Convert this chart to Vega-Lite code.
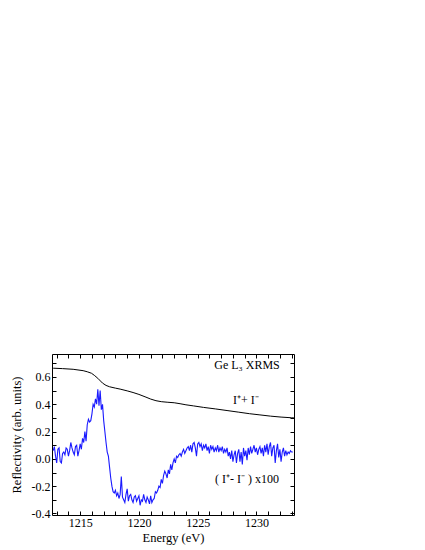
{
  "$schema": "https://vega.github.io/schema/vega-lite/v6.json",
  "width": 242,
  "height": 161,
  "autosize": {"type": "none"},
  "padding": {"left": 52, "top": 354, "right": 131, "bottom": 35},
  "config": {
    "view": {"stroke": "black", "strokeWidth": 1},
    "font": "Liberation Serif",
    "axis": {"labelFont": "Liberation Serif", "titleFont": "Liberation Serif", "labelFontSize": 12, "titleFontSize": 12.5, "titleFontWeight": "normal", "labelColor": "black", "titleColor": "black", "tickColor": "black", "grid": false, "domain": false}
  },
  "datasets": {
    "sum": [
      {"e": 1212.7, "v": 0.664}, {"e": 1213.5, "v": 0.661}, {"e": 1214.4, "v": 0.656}, {"e": 1215.25, "v": 0.646},
      {"e": 1215.6, "v": 0.638}, {"e": 1215.96, "v": 0.627}, {"e": 1216.2, "v": 0.612}, {"e": 1216.5, "v": 0.59},
      {"e": 1216.9, "v": 0.555}, {"e": 1217.2, "v": 0.538}, {"e": 1217.5, "v": 0.528}, {"e": 1218.0, "v": 0.518},
      {"e": 1218.4, "v": 0.511}, {"e": 1219.0, "v": 0.498}, {"e": 1219.5, "v": 0.486}, {"e": 1220.0, "v": 0.472},
      {"e": 1220.6, "v": 0.452}, {"e": 1221.0, "v": 0.438}, {"e": 1221.45, "v": 0.426}, {"e": 1221.9, "v": 0.419},
      {"e": 1222.4, "v": 0.415}, {"e": 1223.0, "v": 0.411}, {"e": 1223.5, "v": 0.404}, {"e": 1224.0, "v": 0.396},
      {"e": 1224.65, "v": 0.388}, {"e": 1225.5, "v": 0.377}, {"e": 1226.5, "v": 0.366}, {"e": 1227.5, "v": 0.354},
      {"e": 1228.5, "v": 0.342}, {"e": 1229.4, "v": 0.331}, {"e": 1230.3, "v": 0.322}, {"e": 1231.2, "v": 0.313},
      {"e": 1232.1, "v": 0.306}, {"e": 1233.0, "v": 0.301}, {"e": 1233.2, "v": 0.3}
    ],
    "diff": [
      {"e": 1212.7, "v": 0.06}, {"e": 1212.8, "v": 0.09}, {"e": 1212.9, "v": 0.02}, {"e": 1213.0, "v": -0.03},
      {"e": 1213.1, "v": 0.07}, {"e": 1213.2, "v": 0.08}, {"e": 1213.3, "v": -0.02}, {"e": 1213.4, "v": -0.03},
      {"e": 1213.5, "v": 0.04}, {"e": 1213.6, "v": 0.05}, {"e": 1213.7, "v": 0.03}, {"e": 1213.8, "v": 0.08},
      {"e": 1213.9, "v": 0.07}, {"e": 1214.0, "v": 0.02}, {"e": 1214.1, "v": 0.06}, {"e": 1214.2, "v": 0.12},
      {"e": 1214.3, "v": 0.08}, {"e": 1214.4, "v": 0.05}, {"e": 1214.5, "v": 0.03}, {"e": 1214.6, "v": 0.09},
      {"e": 1214.7, "v": 0.1}, {"e": 1214.8, "v": 0.02}, {"e": 1214.9, "v": 0.06}, {"e": 1215.0, "v": 0.11},
      {"e": 1215.1, "v": 0.07}, {"e": 1215.2, "v": 0.15}, {"e": 1215.3, "v": 0.12}, {"e": 1215.4, "v": 0.2},
      {"e": 1215.5, "v": 0.13}, {"e": 1215.6, "v": 0.25}, {"e": 1215.7, "v": 0.29}, {"e": 1215.8, "v": 0.27},
      {"e": 1215.9, "v": 0.28}, {"e": 1216.0, "v": 0.33}, {"e": 1216.1, "v": 0.4}, {"e": 1216.2, "v": 0.38},
      {"e": 1216.3, "v": 0.44}, {"e": 1216.4, "v": 0.4}, {"e": 1216.5, "v": 0.51}, {"e": 1216.6, "v": 0.39},
      {"e": 1216.7, "v": 0.5}, {"e": 1216.8, "v": 0.36}, {"e": 1216.9, "v": 0.4}, {"e": 1217.0, "v": 0.28},
      {"e": 1217.1, "v": 0.2}, {"e": 1217.2, "v": 0.12}, {"e": 1217.3, "v": 0.05}, {"e": 1217.4, "v": 0.02},
      {"e": 1217.5, "v": -0.06}, {"e": 1217.6, "v": -0.14}, {"e": 1217.7, "v": -0.2}, {"e": 1217.8, "v": -0.24},
      {"e": 1217.9, "v": -0.25}, {"e": 1218.0, "v": -0.23}, {"e": 1218.1, "v": -0.27}, {"e": 1218.2, "v": -0.25},
      {"e": 1218.3, "v": -0.29}, {"e": 1218.4, "v": -0.26}, {"e": 1218.5, "v": -0.13}, {"e": 1218.6, "v": -0.28},
      {"e": 1218.7, "v": -0.3}, {"e": 1218.8, "v": -0.32}, {"e": 1218.9, "v": -0.26}, {"e": 1219.0, "v": -0.22},
      {"e": 1219.1, "v": -0.31}, {"e": 1219.2, "v": -0.27}, {"e": 1219.3, "v": -0.26}, {"e": 1219.4, "v": -0.3},
      {"e": 1219.5, "v": -0.32}, {"e": 1219.6, "v": -0.28}, {"e": 1219.7, "v": -0.27}, {"e": 1219.8, "v": -0.31},
      {"e": 1219.9, "v": -0.29}, {"e": 1220.0, "v": -0.27}, {"e": 1220.1, "v": -0.34}, {"e": 1220.2, "v": -0.3},
      {"e": 1220.3, "v": -0.31}, {"e": 1220.4, "v": -0.26}, {"e": 1220.5, "v": -0.3}, {"e": 1220.6, "v": -0.32},
      {"e": 1220.7, "v": -0.28}, {"e": 1220.8, "v": -0.3}, {"e": 1220.9, "v": -0.33}, {"e": 1221.0, "v": -0.27},
      {"e": 1221.1, "v": -0.32}, {"e": 1221.2, "v": -0.3}, {"e": 1221.3, "v": -0.29}, {"e": 1221.4, "v": -0.24},
      {"e": 1221.5, "v": -0.25}, {"e": 1221.6, "v": -0.23}, {"e": 1221.7, "v": -0.2}, {"e": 1221.8, "v": -0.21},
      {"e": 1221.9, "v": -0.15}, {"e": 1222.0, "v": -0.18}, {"e": 1222.1, "v": -0.12}, {"e": 1222.2, "v": -0.09},
      {"e": 1222.3, "v": -0.11}, {"e": 1222.4, "v": -0.14}, {"e": 1222.5, "v": -0.08}, {"e": 1222.6, "v": -0.11},
      {"e": 1222.7, "v": -0.04}, {"e": 1222.8, "v": -0.08}, {"e": 1222.9, "v": -0.03}, {"e": 1223.0, "v": 0.0},
      {"e": 1223.1, "v": -0.03}, {"e": 1223.2, "v": 0.02}, {"e": 1223.3, "v": 0.01}, {"e": 1223.4, "v": 0.03},
      {"e": 1223.5, "v": 0.04}, {"e": 1223.6, "v": 0.02}, {"e": 1223.7, "v": 0.05}, {"e": 1223.8, "v": 0.07},
      {"e": 1223.9, "v": 0.04}, {"e": 1224.0, "v": 0.06}, {"e": 1224.1, "v": 0.08}, {"e": 1224.2, "v": 0.09},
      {"e": 1224.3, "v": 0.06}, {"e": 1224.4, "v": 0.1}, {"e": 1224.5, "v": 0.05}, {"e": 1224.6, "v": 0.11},
      {"e": 1224.7, "v": 0.12}, {"e": 1224.8, "v": 0.08}, {"e": 1224.9, "v": 0.02}, {"e": 1225.0, "v": 0.11},
      {"e": 1225.1, "v": 0.12}, {"e": 1225.2, "v": 0.09}, {"e": 1225.3, "v": 0.11}, {"e": 1225.4, "v": 0.06},
      {"e": 1225.5, "v": 0.1}, {"e": 1225.6, "v": 0.08}, {"e": 1225.7, "v": 0.11}, {"e": 1225.8, "v": 0.06},
      {"e": 1225.9, "v": 0.09}, {"e": 1226.0, "v": 0.04}, {"e": 1226.1, "v": 0.1}, {"e": 1226.2, "v": 0.07},
      {"e": 1226.3, "v": 0.09}, {"e": 1226.4, "v": 0.05}, {"e": 1226.5, "v": 0.08}, {"e": 1226.6, "v": 0.06},
      {"e": 1226.7, "v": 0.1}, {"e": 1226.8, "v": 0.05}, {"e": 1226.9, "v": 0.08}, {"e": 1227.0, "v": 0.06},
      {"e": 1227.1, "v": 0.09}, {"e": 1227.2, "v": 0.04}, {"e": 1227.3, "v": 0.07}, {"e": 1227.4, "v": 0.05},
      {"e": 1227.5, "v": 0.08}, {"e": 1227.6, "v": 0.02}, {"e": 1227.7, "v": 0.05}, {"e": 1227.8, "v": 0.0},
      {"e": 1227.9, "v": 0.06}, {"e": 1228.0, "v": -0.02}, {"e": 1228.1, "v": 0.03}, {"e": 1228.2, "v": 0.06},
      {"e": 1228.3, "v": -0.03}, {"e": 1228.4, "v": 0.04}, {"e": 1228.5, "v": 0.07}, {"e": 1228.6, "v": -0.02},
      {"e": 1228.7, "v": 0.05}, {"e": 1228.8, "v": -0.04}, {"e": 1228.9, "v": 0.08}, {"e": 1229.0, "v": 0.02},
      {"e": 1229.1, "v": 0.06}, {"e": 1229.2, "v": -0.01}, {"e": 1229.3, "v": 0.08}, {"e": 1229.4, "v": 0.03},
      {"e": 1229.5, "v": 0.09}, {"e": 1229.6, "v": 0.04}, {"e": 1229.7, "v": 0.07}, {"e": 1229.8, "v": 0.1},
      {"e": 1229.9, "v": 0.05}, {"e": 1230.0, "v": 0.08}, {"e": 1230.1, "v": 0.03}, {"e": 1230.2, "v": 0.07},
      {"e": 1230.3, "v": 0.09}, {"e": 1230.4, "v": 0.04}, {"e": 1230.5, "v": 0.08}, {"e": 1230.6, "v": 0.02},
      {"e": 1230.7, "v": 0.1}, {"e": 1230.8, "v": 0.05}, {"e": 1230.9, "v": 0.11}, {"e": 1231.0, "v": 0.03},
      {"e": 1231.1, "v": 0.09}, {"e": 1231.2, "v": 0.12}, {"e": 1231.3, "v": 0.02}, {"e": 1231.4, "v": 0.08},
      {"e": 1231.5, "v": 0.1}, {"e": 1231.6, "v": -0.03}, {"e": 1231.7, "v": 0.06}, {"e": 1231.8, "v": 0.11},
      {"e": 1231.9, "v": 0.01}, {"e": 1232.0, "v": 0.07}, {"e": 1232.1, "v": -0.02}, {"e": 1232.2, "v": 0.05},
      {"e": 1232.3, "v": 0.08}, {"e": 1232.4, "v": 0.02}, {"e": 1232.5, "v": 0.06}, {"e": 1232.6, "v": 0.03},
      {"e": 1232.7, "v": 0.05}, {"e": 1232.8, "v": 0.04}, {"e": 1232.9, "v": 0.06}, {"e": 1233.0, "v": 0.05},
      {"e": 1233.1, "v": 0.05}
    ],
    "notes": [
      {"e": 1229.2, "v": 0.69, "t": "Ge L₃ XRMS"},
      {"e": 1229.1, "v": 0.43, "t": "I⁺+ I⁻"},
      {"e": 1229.2, "v": -0.145, "t": "( I⁺- I⁻ ) x100"}
    ]
  },
  "resolve": {"axis": {"x": "independent", "y": "independent"}},
  "layer": [
    {
      "mark": {"type": "rule", "color": "black", "strokeWidth": 1},
      "encoding": {
        "y": {"datum": 0, "type": "quantitative", "scale": {"domain": [-0.411, 0.768], "nice": false, "zero": false}, "axis": null}
      }
    },
    {
      "data": {"name": "sum"},
      "mark": {"type": "line", "color": "black", "strokeWidth": 1},
      "encoding": {
        "x": {"field": "e", "type": "quantitative", "scale": {"domain": [1212.6, 1233.2], "nice": false, "zero": false},
          "axis": {"orient": "bottom", "title": "Energy (eV)", "titleFontWeight": "normal", "values": [1213,1214,1215,1216,1217,1218,1219,1220,1221,1222,1223,1224,1225,1226,1227,1228,1229,1230,1231,1232,1233],
            "format": "d", "labelExpr": "datum.value % 5 == 0 ? datum.label : ''", "tickSize": -4, "labelPadding": 6, "titlePadding": 3, "labelFlush": false, "labelOverlap": false}},
        "y": {"field": "v", "type": "quantitative", "scale": {"domain": [-0.411, 0.768], "nice": false, "zero": false},
          "axis": {"orient": "left", "title": "Reflectivity (arb. units)", "titleFontWeight": "normal", "values": [-0.4,-0.3,-0.2,-0.1,0,0.1,0.2,0.3,0.4,0.5,0.6,0.7],
            "labelExpr": "abs(round(datum.value*10)) % 2 == 0 ? replace(format(datum.value, '.1f'), '−', '-') : ''", "tickSize": -4, "labelPadding": 6, "titlePadding": 8, "labelFlush": false, "labelOverlap": false}}
      }
    },
    {
      "data": {"name": "diff"},
      "mark": {"type": "line", "color": "#1a1aff", "strokeWidth": 1.1},
      "encoding": {
        "x": {"field": "e", "type": "quantitative", "scale": {"domain": [1212.6, 1233.2], "nice": false, "zero": false},
          "axis": {"orient": "top", "title": null, "labels": false, "values": [1213,1214,1215,1216,1217,1218,1219,1220,1221,1222,1223,1224,1225,1226,1227,1228,1229,1230,1231,1232,1233], "tickSize": -4}},
        "y": {"field": "v", "type": "quantitative", "scale": {"domain": [-0.411, 0.768], "nice": false, "zero": false},
          "axis": {"orient": "right", "title": null, "labels": false, "values": [-0.4,-0.3,-0.2,-0.1,0,0.1,0.2,0.3,0.4,0.5,0.6,0.7], "tickSize": -4}}
      }
    },
    {
      "data": {"name": "notes"},
      "mark": {"type": "text", "font": "Liberation Serif", "fontSize": 12, "fontWeight": "normal", "color": "black", "align": "center", "baseline": "middle"},
      "encoding": {
        "x": {"field": "e", "type": "quantitative", "scale": {"domain": [1212.6, 1233.2], "nice": false, "zero": false}, "axis": null},
        "y": {"field": "v", "type": "quantitative", "scale": {"domain": [-0.411, 0.768], "nice": false, "zero": false}, "axis": null},
        "text": {"field": "t"}
      }
    }
  ]
}
